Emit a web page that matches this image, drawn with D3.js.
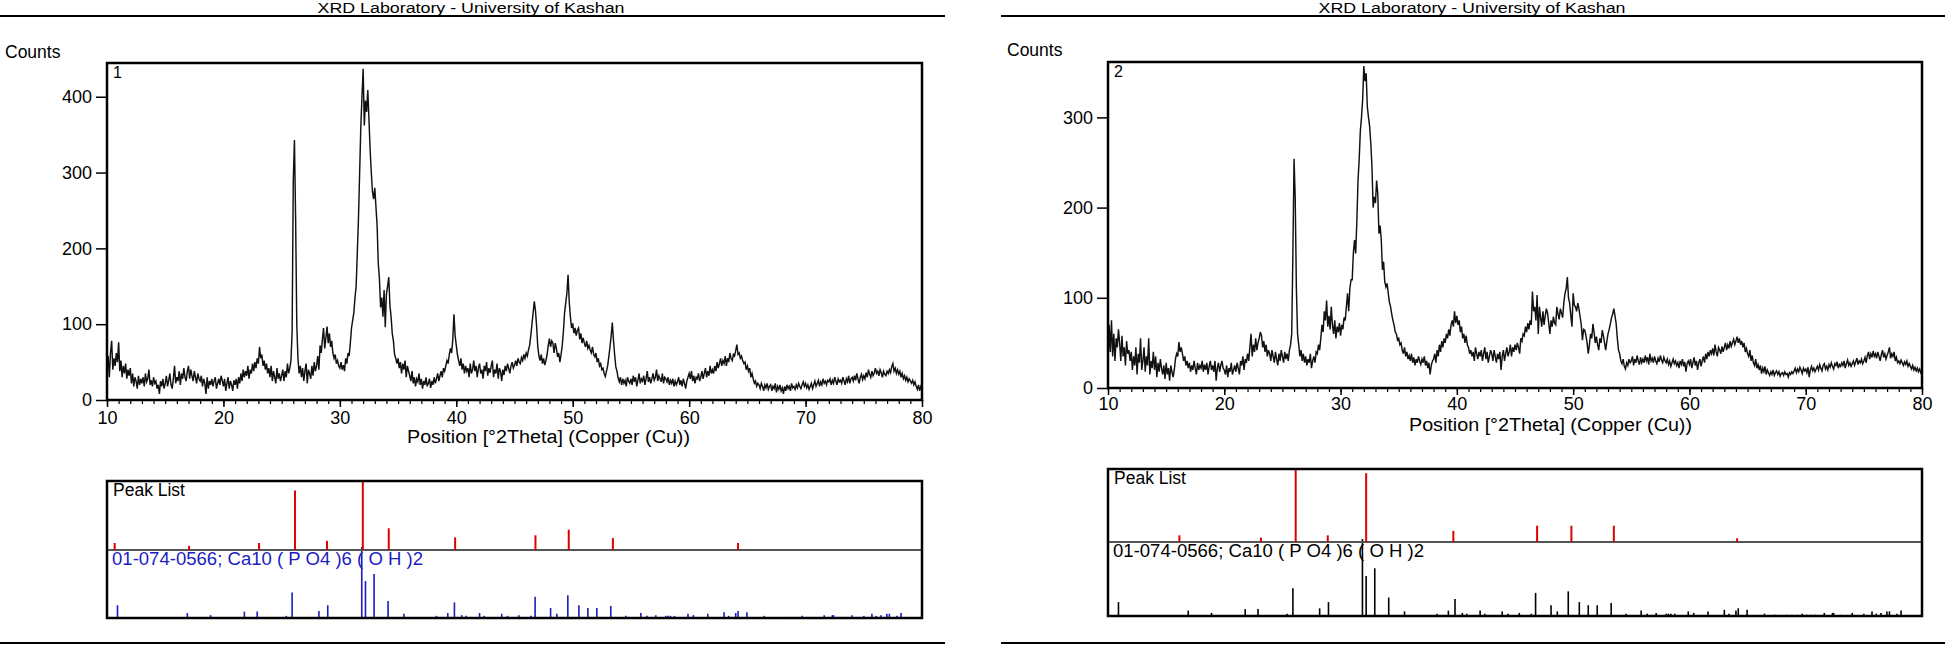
<!DOCTYPE html>
<html><head><meta charset="utf-8">
<script src="https://cdn.jsdelivr.net/npm/d3@7"></script>
<style>
html,body{margin:0;padding:0;background:#fff;}
svg{display:block;font-family:"Liberation Sans",Arial,sans-serif;}
</style></head>
<body>
<svg id="chart" width="1945" height="645"></svg>
<script>
// ---------------- DATA ----------------
const headerText = "XRD Laboratory - University of Kashan";
const yLabel = "Counts";
const xLabel = "Position [°2Theta] (Copper (Cu))";
const peakListLabel = "Peak List";
const refLabel = "01-074-0566; Ca10 ( P O4 )6 ( O H )2";
const panelNames = ["1", "2"];
const twoThetaStart = 10, twoThetaStep = 0.1;
const xTicks = [10, 20, 30, 40, 50, 60, 70, 80];
const yTicks1 = [0, 100, 200, 300, 400];
const yTicks2 = [0, 100, 200, 300];

// Sample 1 counts, 0.1° steps from 10.0° (one row per degree)
const counts1 = [
 35,58,30,62,78,40,55,45,62,50,
 76,38,52,30,45,35,48,28,40,32,
 42,22,35,18,30,25,15,32,20,28,
 22,30,18,35,24,28,40,20,26,18,
 30,22,25,15,20,8,25,18,28,15,
 22,32,18,26,35,20,15,28,45,22,
 30,25,38,20,35,28,42,30,25,38,
 45,28,40,32,25,38,30,22,35,28,
 25,32,18,28,22,8,30,15,25,20,
 28,18,25,30,15,22,28,20,32,26,
 18,28,12,22,30,15,25,20,12,26,
 20,28,15,30,22,35,25,40,30,38,
 32,45,28,40,35,48,38,50,42,55,
 48,70,55,60,45,52,40,48,35,42,
 30,45,25,38,30,22,42,28,35,25,
 32,40,25,38,30,48,35,42,52,90,
 290,343,240,100,55,35,45,30,42,25,
 38,48,22,40,35,28,45,32,50,38,
 45,58,40,72,62,80,95,68,82,97,
 75,88,70,78,62,55,60,48,52,45,
 42,50,40,46,38,55,48,62,58,75,
 95,105,115,135,150,195,240,300,360,400,
 437,362,395,380,409,370,330,300,275,265,
 280,255,230,180,160,122,135,110,145,96,
 140,150,162,125,110,88,78,60,55,48,
 55,42,50,35,48,40,52,30,45,38,
 32,25,38,22,30,18,28,24,35,20,
 28,15,25,20,30,18,22,28,16,25,
 20,30,22,28,35,25,32,38,30,42,
 38,45,52,48,60,68,62,80,113,85,
 72,60,52,45,55,40,48,35,45,38,
 42,30,48,35,40,52,38,45,30,42,
 48,35,40,28,45,38,50,32,42,36,
 45,52,30,40,35,48,28,42,38,25,
 40,33,45,38,48,42,35,45,50,42,
 46,52,45,55,50,48,56,52,60,55,
 62,58,66,72,85,100,115,130,118,97,
 70,58,52,60,48,55,46,52,60,72,
 81,70,78,75,62,75,68,57,62,50,
 60,72,90,115,128,141,165,130,110,95,
 101,88,95,85,92,95,80,88,75,82,
 75,70,78,68,72,66,62,70,60,57,
 62,50,55,45,48,40,42,35,31,38,
 45,57,70,84,102,79,60,44,38,29,
 24,30,20,28,22,26,18,30,25,22,
 28,20,32,24,30,18,26,35,22,28,
 25,32,20,28,38,24,30,22,28,35,
 26,30,40,25,32,28,24,35,22,30,
 28,24,30,20,26,22,28,18,25,20,
 24,30,20,26,18,28,22,15,25,30,
 35,28,38,25,32,22,30,28,35,25,
 30,38,28,35,42,30,38,32,45,35,
 40,35,45,38,50,42,48,55,45,52,
 48,58,45,55,50,62,55,52,60,58,
 65,73,60,62,55,58,52,48,50,40,
 45,38,42,30,35,28,22,25,18,22,
 20,15,22,18,12,20,16,22,14,18,
 20,12,18,15,22,10,18,14,20,12,
 16,8,18,12,20,15,18,12,22,16,
 18,14,20,16,22,18,15,20,24,18,
 22,16,20,14,18,22,15,20,25,18,
 22,26,18,24,20,28,22,25,20,26,
 24,28,20,26,22,30,25,20,28,24,
 26,22,30,25,20,28,24,32,22,28,
 30,25,32,26,35,28,22,30,34,27,
 32,28,36,30,40,34,30,38,32,36,
 42,35,38,32,40,36,30,38,34,32,
 38,35,40,36,44,48,38,42,35,40,
 34,38,30,35,28,32,26,30,24,28,
 25,22,26,20,24,18,14,20,12,18,
 15
];

// Sample 2 counts, 0.1° steps from 10.0°
const counts2 = [
 25,70,40,75,35,60,30,55,45,65,
 50,30,58,35,45,25,52,38,42,30,
 40,20,35,25,45,15,38,28,55,20,
 30,45,18,35,25,55,15,30,22,40,
 20,35,12,28,18,32,22,15,25,10,
 28,15,22,8,25,18,12,20,32,38,
 35,51,40,45,38,30,35,25,30,22,
 28,18,25,20,30,22,15,28,20,25,
 22,30,18,26,20,28,15,24,30,20,
 25,18,30,8,22,28,18,25,30,22,
 20,15,25,12,22,18,28,15,20,25,
 18,28,22,15,30,25,35,20,32,28,
 38,30,45,60,35,48,40,55,42,50,
 55,62,58,45,52,40,48,35,42,38,
 30,42,35,28,40,32,25,38,30,42,
 35,28,40,32,38,30,42,48,60,150,
 254,210,110,60,48,35,42,30,38,28,
 35,25,32,28,38,22,30,35,28,40,
 38,48,42,55,70,62,85,75,97,68,
 80,65,90,70,60,75,55,68,62,72,
 58,70,65,78,75,90,105,85,110,120,
 120,150,164,149,185,230,253,285,300,320,
 357,340,349,312,300,290,271,245,200,212,
 205,230,215,171,180,164,131,140,118,112,
 116,105,95,90,82,75,70,62,60,53,
 55,48,50,42,38,45,35,40,32,36,
 30,38,28,34,25,32,28,35,30,26,
 32,28,35,25,30,22,28,15,25,30,
 32,38,28,42,35,48,40,52,45,55,
 50,60,55,65,58,70,75,68,85,72,
 80,70,75,62,68,55,60,50,58,48,
 45,38,42,35,40,30,45,38,32,40,
 35,42,30,38,45,32,40,28,35,42,
 38,30,42,35,28,38,32,40,20,35,
 42,30,38,45,35,40,48,35,45,40,
 48,42,50,45,38,55,52,60,58,68,
 62,72,65,75,70,107,85,90,75,103,
 60,90,78,68,85,70,80,88,83,72,
 60,75,68,79,72,70,90,82,76,88,
 83,78,95,105,110,123,100,94,80,68,
 105,92,90,85,94,88,79,70,53,65,
 64,58,50,38,48,60,55,71,62,50,
 57,48,42,55,50,64,58,50,42,52,
 60,65,71,78,82,88,80,71,55,42,
 38,30,27,32,24,21,28,25,32,28,
 30,35,25,32,28,36,30,26,34,28,
 32,28,36,30,34,26,38,30,33,28,
 35,30,27,33,29,36,31,28,34,30,
 28,32,26,30,24,28,32,27,30,25,
 28,22,30,26,32,24,29,18,27,30,
 26,32,22,28,34,25,30,20,28,32,
 24,30,35,28,38,32,40,35,42,38,
 44,36,48,40,35,45,42,38,46,40,
 45,50,42,48,44,52,46,50,54,48,
 52,57,50,55,48,52,45,50,40,44,
 38,35,42,30,36,28,25,32,22,26,
 20,25,16,22,18,24,15,20,17,14,
 18,15,20,14,17,19,15,18,13,16,
 17,14,18,15,16,12,17,15,18,16,
 19,22,17,21,18,23,20,16,22,19,
 21,17,23,12,20,24,19,22,18,21,
 24,20,26,22,19,25,27,21,24,20,
 26,23,28,24,21,27,25,29,22,26,
 24,28,25,30,22,27,31,25,28,24,
 27,30,25,29,33,26,30,28,32,27,
 30,34,28,36,40,32,38,34,41,35,
 38,33,40,35,30,37,42,34,38,32,
 36,40,45,33,38,35,40,30,34,28,
 30,27,31,28,25,29,26,30,24,27,
 24,21,25,20,23,19,22,18,21,17,
 14
];

// Peak lists (position °2θ, relative height %)
const peaks1Pos = [10.66, 17.05, 23.06, 26.15, 28.9, 31.97, 34.2, 39.9, 46.8, 49.66, 53.45, 64.2];
const peaks1Rel = [10, 6, 10, 85, 13, 100, 31, 18, 21, 29, 17, 10];
const peaks2Pos = [16.14, 23.15, 26.14, 28.9, 32.2, 39.7, 46.9, 49.85, 53.5, 64.1];
const peaks2Rel = [9, 6, 100, 9, 93, 15, 22, 22, 22, 5];

// Reference pattern 01-074-0566 (position °2θ, relative intensity %)
const refPos = [10.9, 16.9, 18.9, 21.8, 22.9, 25.4, 25.9, 28.2, 28.96, 31.88, 32.2, 32.94, 34.14, 35.5, 38.3, 39.27, 39.84, 40.47, 40.85, 42.0, 42.4, 43.9, 44.4, 45.37, 46.4, 46.77, 48.1, 48.64, 49.58, 50.53, 51.3, 52.07, 53.27, 54.56, 55.85, 56.37, 57.14, 58.0, 58.2, 58.4, 58.74, 59.9, 60.37, 61.6, 63.0, 63.4, 64.0, 64.2, 64.96, 66.45, 67.36, 68.4, 68.8, 69.3, 69.7, 70.1, 70.5, 70.8, 71.6, 72.3, 72.4, 73.0, 74.0, 75.0, 75.7, 76.07, 76.47, 76.98, 77.2, 77.85, 78.2];
const refInt = [18, 7, 4, 9, 9, 3, 36, 10, 18, 100, 52, 62, 24, 6, 3, 7, 22, 4, 3, 7, 3, 6, 3, 4, 3, 30, 14, 6, 32, 18, 14, 14, 17, 3, 7, 3, 4, 3, 3, 3, 3, 6, 4, 6, 8, 3, 7, 10, 8, 3, 1.5, 1.5, 1.5, 1.5, 3, 1.5, 1.5, 1.5, 4, 4, 4, 1.5, 4, 3, 6, 3, 4, 6, 6, 3, 7];

// ---------------- DRAWING ----------------
const svg = d3.select("#chart");
svg.append("rect").attr("width",1945).attr("height",645).attr("fill","#fff");

function drawPanel(cfg) {
  const g = svg.append("g");
  // header and rules
  g.append("line").attr("x1",cfg.hx0).attr("x2",cfg.hx1).attr("y1",16).attr("y2",16)
    .attr("stroke","#000").attr("stroke-width",2);
  g.append("text").attr("x",cfg.hcx).attr("y",13).attr("text-anchor","middle")
    .attr("font-size",15.5).attr("textLength",307).attr("lengthAdjust","spacingAndGlyphs")
    .text(headerText);
  g.append("line").attr("x1",cfg.hx0).attr("x2",cfg.hx1).attr("y1",643).attr("y2",643)
    .attr("stroke","#000").attr("stroke-width",2);

  const x = d3.scaleLinear().domain([10,80]).range([cfg.x0,cfg.x1]);
  const y = d3.scaleLinear().domain([0,cfg.yMax]).range([cfg.bot,cfg.top]);

  g.append("text").attr("x",cfg.countsX).attr("y",cfg.countsY).attr("font-size",17.5).text(yLabel);

  // data line
  const pts = cfg.counts.map((c,i)=>[twoThetaStart + i*twoThetaStep, c]);
  g.append("path").datum(pts)
    .attr("d", d3.line().x(d=>x(d[0])).y(d=>y(d[1])))
    .attr("fill","none").attr("stroke","#111").attr("stroke-width",1.45);

  // frame
  g.append("rect").attr("x",cfg.x0).attr("y",cfg.top).attr("width",cfg.x1-cfg.x0).attr("height",cfg.bot-cfg.top)
    .attr("fill","none").attr("stroke","#000").attr("stroke-width",2.5);
  g.append("text").attr("x",cfg.x0+6).attr("y",cfg.top+15).attr("font-size",16).text(cfg.name);

  // axes
  const yAx = g.append("g").attr("transform",`translate(${cfg.x0},0)`)
    .call(d3.axisLeft(y).tickValues(cfg.yTicks).tickSize(11).tickPadding(4).tickFormat(d3.format("d")));
  yAx.select(".domain").remove();
  yAx.selectAll("line").attr("stroke-width",1.5);
  yAx.selectAll("text").attr("font-size",18).attr("font-family","Liberation Sans, Arial").attr("fill","#000");

  const xMinor = g.append("g").attr("transform",`translate(0,${cfg.bot})`)
    .call(d3.axisBottom(x).tickValues(d3.range(10,81,1)).tickSize(4).tickFormat(""));
  xMinor.select(".domain").remove();
  xMinor.selectAll("line").attr("stroke-width",1.2);
  const xAx = g.append("g").attr("transform",`translate(0,${cfg.bot})`)
    .call(d3.axisBottom(x).tickValues(xTicks).tickSize(7).tickPadding(cfg.xPad).tickFormat(d3.format("d")));
  xAx.select(".domain").remove();
  xAx.selectAll("line").attr("stroke-width",1.5);
  xAx.selectAll("text").attr("font-size",18).attr("font-family","Liberation Sans, Arial").attr("fill","#000");

  g.append("text").attr("x",cfg.xlx).attr("y",cfg.xly).attr("font-size",18)
    .attr("textLength",283).attr("lengthAdjust","spacingAndGlyphs").text(xLabel);

  // peak list box
  const b = cfg.box;
  const yp = d3.scaleLinear().domain([0,100]).range([b.div, b.top-1]);
  const yr = d3.scaleLinear().domain([0,100]).range([b.bot, b.div-3]);
  g.append("g").selectAll("line").data(refPos.map((p,i)=>[p,refInt[i]])).join("line")
    .attr("x1",d=>x(d[0])).attr("x2",d=>x(d[0])).attr("y1",yr(0)).attr("y2",d=>yr(d[1]))
    .attr("stroke",cfg.refColor).attr("stroke-width",1.6);
  g.append("line").attr("x1",cfg.x0).attr("x2",cfg.x1).attr("y1",b.div).attr("y2",b.div)
    .attr("stroke","#555").attr("stroke-width",2);
  g.append("g").selectAll("line").data(cfg.pPos.map((p,i)=>[p,cfg.pRel[i]])).join("line")
    .attr("x1",d=>x(d[0])).attr("x2",d=>x(d[0])).attr("y1",yp(0)).attr("y2",d=>yp(d[1]))
    .attr("stroke","#e00000").attr("stroke-width",2);
  g.append("rect").attr("x",cfg.x0).attr("y",b.top).attr("width",cfg.x1-cfg.x0).attr("height",b.bot-b.top)
    .attr("fill","none").attr("stroke","#000").attr("stroke-width",2.5);
  g.append("text").attr("x",cfg.x0+6).attr("y",b.top+15).attr("font-size",17.5).text(peakListLabel);
  g.append("text").attr("x",cfg.x0+5).attr("y",b.div+15).attr("font-size",17.5)
    .attr("textLength",311).attr("lengthAdjust","spacingAndGlyphs")
    .attr("fill",cfg.refColor).text(refLabel);
}

drawPanel({hx0:0,hx1:945,hcx:471, x0:107,x1:922,top:63,bot:400,yMax:444.5,yTicks:yTicks1,
  countsX:5,countsY:58,name:panelNames[0],counts:counts1,xPad:4,xlx:407,xly:443,
  box:{top:481,div:550,bot:618}, refColor:"#1c1cc0", pPos:peaks1Pos, pRel:peaks1Rel});
drawPanel({hx0:1001,hx1:1945,hcx:1472, x0:1108,x1:1922,top:62,bot:388,yMax:361.4,yTicks:yTicks2,
  countsX:1007,countsY:56,name:panelNames[1],counts:counts2,xPad:2,xlx:1409,xly:431,
  box:{top:469,div:542,bot:616}, refColor:"#000", pPos:peaks2Pos, pRel:peaks2Rel});
</script>
</body></html>
